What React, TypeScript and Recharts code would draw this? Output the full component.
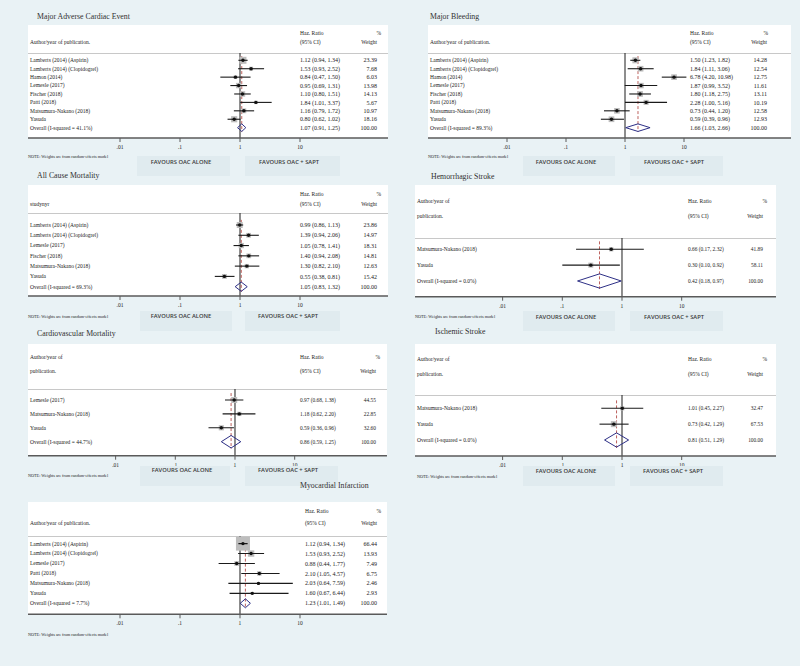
import React from "react";
import { ReferenceLine, Scatter, ScatterChart, XAxis, YAxis } from "recharts";

// axis
const tickValues = [0.01, 0.1, 1, 10];
const tickLabels = [".01", ".1", "1", "10"];
const favourLabels = ["FAVOURS OAC ALONE", "FAVOURS OAC + SAPT"];
const noteText = "NOTE: Weights are from random-effects model";

// Major Adverse Cardiac Event
const maceStudies = ["Lamberts (2014) (Aspirin)", "Lamberts (2014) (Clopidogrel)", "Hamon (2014)", "Lemesle (2017)", "Fischer (2018)", "Patti (2018)", "Matsumura-Nakano (2018)", "Yasuda", "Overall  (I-squared = 41.1%)"];
const maceHR = [1.12, 1.53, 0.84, 0.95, 1.1, 1.84, 1.16, 0.8, 1.07];
const maceLow = [0.94, 0.93, 0.47, 0.69, 0.8, 1.01, 0.79, 0.62, 0.91];
const maceHigh = [1.34, 2.52, 1.5, 1.31, 1.51, 3.37, 1.72, 1.02, 1.25];
const maceWeight = [23.39, 7.68, 6.03, 13.98, 14.13, 5.67, 10.97, 18.16, 100];

// Major Bleeding
const bleedStudies = ["Lamberts (2014) (Aspirin)", "Lamberts (2014) (Clopidogrel)", "Hamon (2014)", "Lemesle (2017)", "Fischer (2018)", "Patti (2018)", "Matsumura-Nakano (2018)", "Yasuda", "Overall  (I-squared = 89.3%)"];
const bleedHR = [1.5, 1.84, 6.78, 1.87, 1.8, 2.28, 0.73, 0.59, 1.66];
const bleedLow = [1.23, 1.11, 4.2, 0.99, 1.18, 1.0, 0.44, 0.39, 1.03];
const bleedHigh = [1.82, 3.06, 10.98, 3.52, 2.75, 5.16, 1.2, 0.96, 2.66];
const bleedWeight = [14.28, 12.54, 12.75, 11.61, 13.11, 10.19, 12.58, 12.93, 100];

// All Cause Mortality
const acmStudies = ["Lamberts (2014) (Aspirin)", "Lamberts (2014) (Clopidogrel)", "Lemesle (2017)", "Fischer (2018)", "Matsumura-Nakano (2018)", "Yasuda", "Overall  (I-squared = 69.3%)"];
const acmHR = [0.99, 1.39, 1.05, 1.4, 1.3, 0.55, 1.05];
const acmLow = [0.86, 0.94, 0.78, 0.94, 0.82, 0.38, 0.83];
const acmHigh = [1.13, 2.06, 1.41, 2.08, 2.1, 0.81, 1.32];
const acmWeight = [23.86, 14.97, 18.31, 14.81, 12.63, 15.42, 100];

// Hemorrhagic Stroke
const hemStudies = ["Matsumura-Nakano (2018)", "Yasuda", "Overall  (I-squared = 0.0%)"];
const hemHR = [0.66, 0.3, 0.42];
const hemLow = [0.17, 0.1, 0.18];
const hemHigh = [2.32, 0.92, 0.97];
const hemWeight = [41.89, 58.11, 100];

// Cardiovascular Mortality
const cvStudies = ["Lemesle (2017)", "Matsumura-Nakano (2018)", "Yasuda", "Overall  (I-squared = 44.7%)"];
const cvHR = [0.97, 1.18, 0.59, 0.86];
const cvLow = [0.68, 0.62, 0.36, 0.59];
const cvHigh = [1.38, 2.2, 0.96, 1.25];
const cvWeight = [44.55, 22.85, 32.6, 100];

// Ischemic Stroke
const iscStudies = ["Matsumura-Nakano (2018)", "Yasuda", "Overall  (I-squared = 0.0%)"];
const iscHR = [1.01, 0.73, 0.81];
const iscLow = [0.45, 0.42, 0.51];
const iscHigh = [2.27, 1.29, 1.29];
const iscWeight = [32.47, 67.53, 100];

// Myocardial Infarction
const miStudies = ["Lamberts (2014) (Aspirin)", "Lamberts (2014) (Clopidogrel)", "Lemesle (2017)", "Patti (2018)", "Matsumura-Nakano (2018)", "Yasuda", "Overall  (I-squared = 7.7%)"];
const miHR = [1.12, 1.53, 0.88, 2.1, 2.03, 1.6, 1.23];
const miLow = [0.94, 0.93, 0.44, 1.05, 0.64, 0.67, 1.01];
const miHigh = [1.34, 2.52, 1.77, 4.57, 7.59, 6.44, 1.49];
const miWeight = [66.44, 13.93, 7.49, 6.75, 2.46, 2.93, 100];

const SERIF = "'Liberation Serif', 'DejaVu Serif', serif";
const SANS = "'Open Sans', 'Noto Sans', sans-serif";
const BG = "#e9f2f5";
const FAV_BG = "#e0ebef";

type Layout = {
  left: number; top: number; width: number; head: number; plot: number;
  pad: number; gap: number; one: number; dec: number;
  labelX: number; hrX: number; wRight: number; pctRight: number;
  hy1: number; hy2: number; twoLine: boolean; authorText?: string;
  titleX: number; titleY: number; noteX: number; noteY: number;
  favY?: number; favBoxes?: number[][]; favCenters?: number[];
  maxBox: number; numSize: number;
};

function T({ x, y, size = 5.5, anchor = "start", family = SERIF, weight = 400, color = "#222", children }: any) {
  const tx = anchor === "end" ? "-100%" : anchor === "middle" ? "-50%" : "0";
  return (
    <div style={{ position: "absolute", left: x, top: y, transform: `translate(${tx}, -50%)`, fontSize: size, fontFamily: family, fontWeight: weight, color, whiteSpace: "nowrap", lineHeight: 1 }}>
      {children}
    </div>
  );
}

function ForestPanel({ title, studies, hr, low, high, weight, L }: any) {
  const lay = L as Layout;
  const n = studies.length;
  const rows = studies.map((s: string, i: number) => ({ x: hr[i], y: i, label: s, lo: low[i], hi: high[i], w: weight[i] }));
  const studyRows = rows.slice(0, n - 1);
  const overall = rows[n - 1];
  const maxW = Math.max(...weight.slice(0, n - 1));
  const xLo = Math.pow(10, (lay.left - lay.one) / lay.dec);
  const xHi = Math.pow(10, (lay.left + lay.width - lay.one) / lay.dec);
  const yTop = -lay.pad / lay.gap;
  const yBot = (lay.plot - lay.pad) / lay.gap;
  const diamond = [
    { x: overall.lo, y: overall.y },
    { x: overall.x, y: overall.y - 0.45 },
    { x: overall.hi, y: overall.y },
    { x: overall.x, y: overall.y + 0.45 },
    { x: overall.lo, y: overall.y },
  ];

  const box = (p: any) => {
    const s = lay.maxBox * Math.sqrt(p.payload.w / maxW);
    return <rect x={p.cx - s / 2} y={p.cy - s / 2} width={s} height={s} fill="#bdbdbd" />;
  };
  const dot = (p: any) => <circle cx={p.cx} cy={p.cy} r={1.7} fill="#111" />;
  const none = () => <g />;
  const rowText = (p: any) => {
    const d = p.payload;
    const txt = `${d.x.toFixed(2)} (${d.lo.toFixed(2)}, ${d.hi.toFixed(2)})`;
    return (
      <g fontFamily={SERIF} fill="#222">
        <text x={lay.labelX - lay.left} y={p.cy} dy="0.35em" fontSize={5.5}>{d.label}</text>
        <text x={lay.hrX - lay.left} y={p.cy} dy="0.35em" fontSize={lay.numSize}>{txt}</text>
        <text x={lay.wRight - lay.left} y={p.cy} dy="0.35em" fontSize={lay.numSize} textAnchor="end">{d.w.toFixed(2)}</text>
      </g>
    );
  };

  return (
    <>
      <T x={lay.titleX} y={lay.titleY} size={7.8} color="#303030">{title}</T>
      <div style={{ position: "absolute", left: lay.left, top: lay.top, width: lay.width, height: lay.head + lay.plot, background: "#fff" }} />
      <div style={{ position: "absolute", left: lay.left, top: lay.top + lay.head, width: lay.width, height: 1, background: "#c8c8c8" }} />
      {lay.twoLine ? (
        <>
          <T x={lay.labelX} y={lay.top + lay.hy1}>Author/year of</T>
          <T x={lay.labelX} y={lay.top + lay.hy2}>publication.</T>
        </>
      ) : (
        <T x={lay.labelX} y={lay.top + lay.hy2}>{lay.authorText ?? "Author/year of publication."}</T>
      )}
      <T x={lay.hrX} y={lay.top + lay.hy1}>Haz. Ratio</T>
      <T x={lay.hrX} y={lay.top + lay.hy2}>(95% CI)</T>
      <T x={lay.pctRight} y={lay.top + lay.hy1} anchor="end">%</T>
      <T x={lay.wRight} y={lay.top + lay.hy2} anchor="end">Weight</T>
      <div style={{ position: "absolute", left: lay.left, top: lay.top + lay.head }}>
        <ScatterChart width={lay.width} height={lay.plot + 20} margin={{ top: 0, right: 0, bottom: 0, left: 0 }}>
          <XAxis
            type="number"
            dataKey="x"
            scale="log"
            domain={[xLo, xHi]}
            allowDataOverflow
            ticks={tickValues}
            interval={0}
            tickFormatter={(v: number) => tickLabels[tickValues.indexOf(v)]}
            axisLine={{ stroke: "#5a5a5a", strokeWidth: 1.5 }}
            tickLine={{ stroke: "#5a5a5a" }}
            tickSize={4}
            tickMargin={3}
            tick={{ fontSize: 5.5, fill: "#222", fontFamily: SERIF }}
            height={20}
          />
          <YAxis type="number" dataKey="y" domain={[yTop, yBot]} reversed hide allowDataOverflow />
          <ReferenceLine x={1} stroke="#1c1c1c" strokeWidth={1} />
          <ReferenceLine
            segment={[{ x: overall.x, y: -0.5 }, { x: overall.x, y: overall.y + 0.5 }]}
            stroke="#b5504c"
            strokeWidth={0.9}
            strokeDasharray="3 2"
          />
          <Scatter data={studyRows} shape={box} isAnimationActive={false} />
          {studyRows.map((r: any, i: number) => (
            <Scatter
              key={"ci" + i}
              data={[{ x: r.lo, y: r.y }, { x: r.hi, y: r.y }]}
              line={{ stroke: "#1a1a1a", strokeWidth: 1.1 }}
              shape={none}
              isAnimationActive={false}
            />
          ))}
          <Scatter data={studyRows} shape={dot} isAnimationActive={false} />
          <Scatter data={diamond} line={{ stroke: "#2d2f86", strokeWidth: 1 }} shape={none} isAnimationActive={false} />
          <Scatter data={rows} shape={rowText} isAnimationActive={false} />
        </ScatterChart>
      </div>
      <T x={lay.noteX} y={lay.noteY} size={4.2}>{noteText}</T>
      {lay.favBoxes &&
        lay.favBoxes.map((b, i) => (
          <React.Fragment key={"fav" + i}>
            <div style={{ position: "absolute", left: b[0], top: b[1], width: b[2], height: b[3], background: FAV_BG }} />
            <T x={lay.favCenters![i]} y={lay.favY} size={5.8} anchor="middle" family={SANS} weight={600} color="#3a3a3a">
              {favourLabels[i]}
            </T>
          </React.Fragment>
        ))}
    </>
  );
}

const layMace: Layout = {
  left: 28, top: 25, width: 360, head: 28, plot: 85, pad: 7.3, gap: 8.42, one: 240, dec: 60,
  labelX: 30, hrX: 300, wRight: 377, pctRight: 381, hy1: 9, hy2: 18, twoLine: false,
  titleX: 37, titleY: 17, noteX: 28, noteY: 157,
  favY: 163, favBoxes: [[137, 156, 93, 20], [245, 156, 95, 20]], favCenters: [181, 289],
  maxBox: 7, numSize: 6,
};
const layBleed: Layout = {
  left: 428, top: 25, width: 363, head: 28, plot: 85, pad: 7.3, gap: 8.42, one: 625, dec: 59,
  labelX: 430, hrX: 690, wRight: 767, pctRight: 768, hy1: 9, hy2: 18, twoLine: false,
  titleX: 430, titleY: 17, noteX: 428, noteY: 157,
  favY: 163, favBoxes: [[523, 156, 92, 20], [630, 156, 93, 20]], favCenters: [566, 674],
  maxBox: 6, numSize: 6,
};
const layAcm: Layout = {
  left: 28, top: 185, width: 360, head: 28, plot: 83, pad: 12, gap: 10.28, one: 240, dec: 60,
  labelX: 30, hrX: 300, wRight: 377, pctRight: 381, hy1: 10, hy2: 20, twoLine: false, authorText: "studynyr",
  titleX: 37, titleY: 176, noteX: 28, noteY: 317,
  favY: 317, favBoxes: [[140, 311, 92, 20], [245, 311, 95, 20]], favCenters: [181, 288],
  maxBox: 6, numSize: 6,
};
const layHem: Layout = {
  left: 415, top: 185, width: 361, head: 53, plot: 58.7, pad: 11.3, gap: 15.85, one: 622, dec: 59.7,
  labelX: 417, hrX: 688, wRight: 763, pctRight: 767, hy1: 17, hy2: 32, twoLine: true,
  titleX: 431, titleY: 177, noteX: 415, noteY: 317,
  favY: 318, favBoxes: [[523, 311, 92, 20], [630, 311, 93, 20]], favCenters: [566, 674],
  maxBox: 5, numSize: 5.4,
};
const layCv: Layout = {
  left: 28, top: 344, width: 359, head: 45, plot: 66.7, pad: 11, gap: 13.9, one: 235, dec: 59.7,
  labelX: 30, hrX: 300, wRight: 376, pctRight: 380, hy1: 14, hy2: 28, twoLine: true,
  titleX: 37, titleY: 334, noteX: 28, noteY: 476,
  favY: 471, favBoxes: [[140, 466, 90, 20], [245, 466, 93, 20]], favCenters: [182, 288],
  maxBox: 6, numSize: 5.4,
};
const layIsc: Layout = {
  left: 415, top: 344, width: 361, head: 51, plot: 61, pad: 13.3, gap: 15.85, one: 622, dec: 59.7,
  labelX: 417, hrX: 688, wRight: 763, pctRight: 767, hy1: 16, hy2: 31, twoLine: true,
  titleX: 435, titleY: 332, noteX: 417, noteY: 477,
  favY: 472, favBoxes: [[523, 466, 92, 20], [630, 466, 93, 20]], favCenters: [566, 673],
  maxBox: 6, numSize: 5.4,
};
const layMi: Layout = {
  left: 28, top: 502, width: 359, head: 33.7, plot: 78.3, pad: 7.6, gap: 9.95, one: 240, dec: 60,
  labelX: 30, hrX: 305, wRight: 377, pctRight: 381, hy1: 10, hy2: 22, twoLine: false,
  titleX: 300, titleY: 486, noteX: 28, noteY: 635,
  maxBox: 14, numSize: 6,
};

export default function App() {
  return (
    <div style={{ position: "absolute", left: 0, top: 0, width: 800, height: 666, background: BG, overflow: "hidden" }}>
      <ForestPanel title="Major Adverse Cardiac Event" studies={maceStudies} hr={maceHR} low={maceLow} high={maceHigh} weight={maceWeight} L={layMace} />
      <ForestPanel title="Major Bleeding" studies={bleedStudies} hr={bleedHR} low={bleedLow} high={bleedHigh} weight={bleedWeight} L={layBleed} />
      <ForestPanel title="All Cause Mortality" studies={acmStudies} hr={acmHR} low={acmLow} high={acmHigh} weight={acmWeight} L={layAcm} />
      <ForestPanel title="Hemorrhagic Stroke" studies={hemStudies} hr={hemHR} low={hemLow} high={hemHigh} weight={hemWeight} L={layHem} />
      <ForestPanel title="Cardiovascular Mortality" studies={cvStudies} hr={cvHR} low={cvLow} high={cvHigh} weight={cvWeight} L={layCv} />
      <ForestPanel title="Ischemic Stroke" studies={iscStudies} hr={iscHR} low={iscLow} high={iscHigh} weight={iscWeight} L={layIsc} />
      <ForestPanel title="Myocardial Infarction" studies={miStudies} hr={miHR} low={miLow} high={miHigh} weight={miWeight} L={layMi} />
    </div>
  );
}
